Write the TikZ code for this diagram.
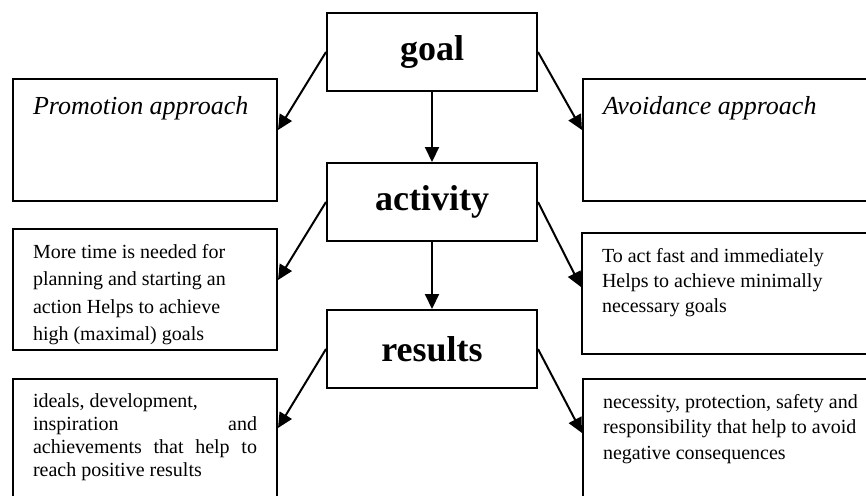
\documentclass[tikz,border=0pt]{standalone}
\usepackage{fontspec}
\setmainfont{Liberation Serif}
\usetikzlibrary{arrows.meta}
\tikzset{
	stage/.style={draw, rectangle, line width=1pt, minimum width=105pt, minimum height=39pt, inner sep=2pt, font=\fontsize{18}{20}\selectfont\bfseries},
	% boxes on both sides, text at the top left
	sidebox/.style={draw, rectangle, line width=1pt, anchor=north west, inner xsep=10pt, inner ysep=7.5pt, font=\fontsize{10}{12.5}\selectfont},
	approach/.style={sidebox, inner ysep=8.5pt, font=\fontsize{13}{15}\selectfont\itshape},
}
\newcommand{\boxtext}[3]{\parbox[t][#1][t]{#2}{#3}}

\begin{document}
\begin{tikzpicture}[x=0.5pt, y=-0.5pt, node distance=75pt]
	\useasboundingbox (0,0) rectangle (866,495);
	\clip (0,0) rectangle (866,495);
	
	\node (goal) [stage] at (432,52) {goal};
	\node (activity) [stage, below of=goal] {activity};
	\node (results) [stage, below of=activity, yshift=1.5pt] {results};
	
	\node (promo) [approach] at (12,78) {\boxtext{44pt}{112pt}{Promotion approach}};
	\node (planning) [sidebox, font=\fontsize{10}{13.75}\selectfont] at (12,228) {\boxtext{45.5pt}{112pt}{More time is needed for\\planning and starting an\\action Helps to achieve\\high (maximal) goals}};
	\node (ideals) [sidebox, font=\fontsize{10}{11.5}\selectfont] at (12,378) {\boxtext{70pt}{112pt}{ideals, development,\\inspiration\hfill and\\\makebox[\linewidth][s]{achievements that help to}\\reach positive results}};
	
	\node (avoid) [approach] at (582,78) {\boxtext{44pt}{140pt}{Avoidance approach}};
	\node (fast) [sidebox] at (581,232) {\boxtext{45.5pt}{140pt}{To act fast and immediately\\Helps to achieve minimally\\necessary goals}};
	\node (safety) [sidebox, font=\fontsize{10}{12.75}\selectfont] at (582,378) {\boxtext{70pt}{140pt}{necessity, protection, safety and\\responsibility that help to avoid\\negative consequences}};
	
	\begin{scope}[line width=1pt, black, ->, >={Triangle[length=7.5pt, width=7pt]}]
		\draw (goal) -- (activity);
		\draw (activity) -- (results);
		
		\draw (goal.west) -- ([yshift=-26pt]promo.north east);
		\draw (activity.west) -- ([yshift=-26pt]planning.north east);
		\draw (results.west) -- ([yshift=-25pt]ideals.north east);
		
		\draw (goal.east) -- ([yshift=-26pt]avoid.north west);
		\draw (activity.east) -- ([yshift=-27.5pt]fast.north west);
		\draw (results.east) -- ([yshift=-27.5pt]safety.north west);
	\end{scope}
	
\end{tikzpicture}
\end{document}
